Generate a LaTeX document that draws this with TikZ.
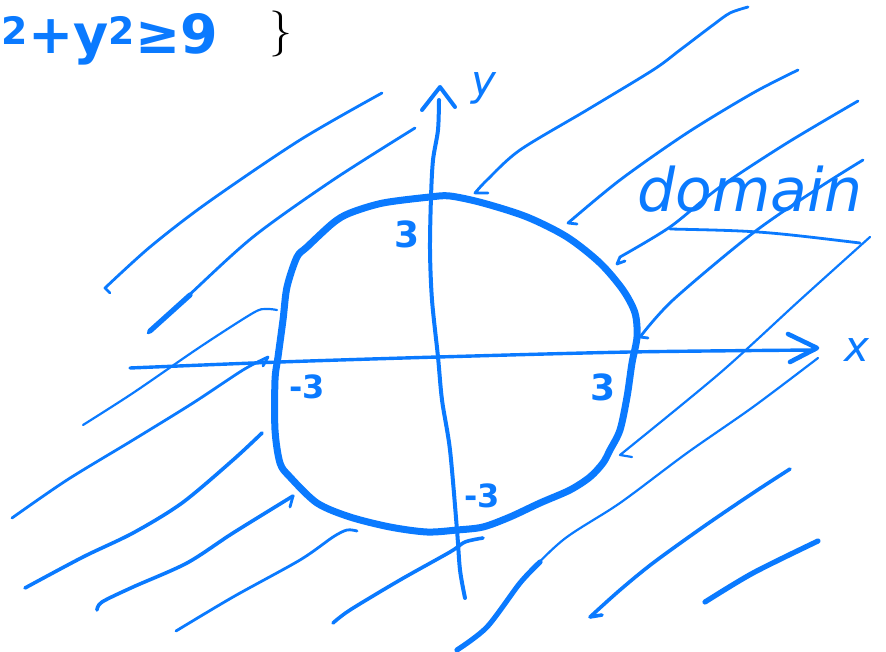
\documentclass[tikz,border=0pt]{standalone}
\usepackage{fontspec}
\newfontfamily\hand{DejaVu Sans}
\definecolor{ink}{RGB}{10,122,255}
\begin{document}
\begin{tikzpicture}[x=1pt,y=-1pt,
  hatch/.style={draw=ink,line width=2.8pt,line cap=round,line join=round},
  thin hatch/.style={hatch,line width=2.2pt},
  bold hatch/.style={hatch,line width=3.6pt},
  heavy hatch/.style={hatch,line width=5.2pt},
  rim/.style={draw=ink,line width=7pt,line join=round},
  axis/.style={draw=ink,line width=4pt,line cap=round,line join=round},
  lbl/.style={text=ink,inner sep=0pt,font=\hand\bfseries\fontsize{36}{36}\selectfont},
  hw/.style={text=ink,inner sep=0pt}]
\useasboundingbox (0,0) rectangle (886,652);
% --- hatching, left side
\draw[hatch] plot[smooth] coordinates {(382,93) (300,140) (207,203) (150,247) (105,288)} -- (110,293);
\draw[hatch] plot[smooth] coordinates {(415,128) (333,180) (253,237) (187,297) (148,333)};
\draw[heavy hatch] (190,295) -- (150,331);
\draw[thin hatch] plot[smooth] coordinates {(277,310) (266,309) (253,313) (200,347) (133,393) (83,425)};
\draw[hatch] plot[smooth] coordinates {(268,357) (243,370) (193,403) (133,440) (67,480) (12,518)};
\draw[hatch] (268,357) -- (263,366);
\draw[bold hatch] plot[smooth] coordinates {(262,433) (233,460) (182,503) (133,533) (83,557) (25,588)};
\draw[bold hatch] plot[smooth] coordinates {(293,496) (233,533) (187,563) (133,587) (102,602) (97,610)};
\draw[hatch] (293,496) -- (290,507);
\draw[hatch] plot[smooth] coordinates {(357,531) (347,530) (333,537) (300,560) (233,597) (176,631)};
\draw[bold hatch] plot[smooth] coordinates {(483,538) (465,542) (450,552) (400,580) (350,610) (333,623)};
% --- hatching, right side
\draw[hatch] plot[smooth] coordinates {(748,7) (730,13) (713,25) (680,50) (653,70) (587,110) (520,150) (487,180) (475,193)} -- (488,193);
\draw[hatch] plot[smooth] coordinates {(798,70) (753,93) (687,133) (620,180) (568,223)} -- (577,224);
\draw[hatch] plot[smooth] coordinates {(858,101) (787,143) (720,187) (670,227) (620,257)} -- (617,264) -- (625,261);
\draw[hatch] plot[smooth] coordinates {(863,160) (820,187) (753,233) (673,300) (640,337)} -- (648,338);
\draw[thin hatch] plot[smooth] coordinates {(870,237) (800,300) (720,373) (620,455)} -- (632,457);
\draw[thin hatch] plot[smooth] coordinates {(818,358) (753,407) (687,453) (620,503) (563,540) (520,583) (487,627) (457,650)};
\draw[heavy hatch] plot[smooth] coordinates {(540,562) (520,583) (487,627) (457,650)};
\draw[bold hatch] plot[smooth] coordinates {(790,469) (753,493) (703,527) (653,563) (620,590) (590,617)} -- (602,615);
\draw[heavy hatch] plot[smooth] coordinates {(818,541) (753,573) (705,602)};
% --- circle
\draw[rim] plot[smooth cycle,tension=0.5] coordinates {
  (430,197) (450,196) (483,203) (527,217) (567,237) (600,263) (623,290)
  (635,313) (637,337) (632,363) (627,397) (620,430) (610,450) (603,463)
  (590,477) (570,490) (540,503) (510,517) (483,527) (457,530) (427,532)
  (390,527) (350,517) (317,503) (290,477) (280,463) (275,430) (275,380)
  (278,357) (283,320) (287,287) (297,257) (307,247) (333,223) (350,213)
  (383,203)};
% --- axes
\draw[axis,line width=3.4pt] plot[smooth] coordinates {(130,368) (280,362) (438,357) (630,352) (815,350)};
\draw[axis,line width=4.6pt] (788,334) -- (817,348) -- (790,362);
\draw[axis] plot[smooth] coordinates {(465,598) (460,570) (457,530) (450,450) (442,400) (438,357) (432,300) (430,250) (431,197) (433,160) (438,130) (439,100)};
\draw[axis] (422,110) -- (440,87) -- (455,107);
% --- labels
\node[hw,font=\hand\fontsize{42}{42}\selectfont\itshape] (ylab) at (484,88) {y};
\node[hw,font=\hand\fontsize{42}{42}\selectfont\itshape] (xlab) at (857,350) {x};
\node[lbl] (ytop) at (407,234) {3};
\node[lbl,font=\hand\bfseries\fontsize{32}{32}\selectfont] (xneg) at (307,387) {-3};
\node[lbl] (xpos) at (603,387) {3};
\node[lbl,font=\hand\bfseries\fontsize{32}{32}\selectfont] (yneg) at (482,496) {-3};
\node[hw,anchor=base,font=\hand\fontsize{60}{60}\selectfont\itshape] (dom) at (750,212) {domain};
\draw[hatch] (670,229) .. controls (760,231) .. (860,243);
\node[hw,anchor=base west,font=\hand\bfseries\fontsize{54}{54}\selectfont] (ineq) at (1,54) {\textsuperscript{2}+y\textsuperscript{2}≥9};
\node[inner sep=0pt,font=\rmfamily\fontsize{46}{46}\selectfont] (brace) at (281,34) {\}};
\end{tikzpicture}
\end{document}
